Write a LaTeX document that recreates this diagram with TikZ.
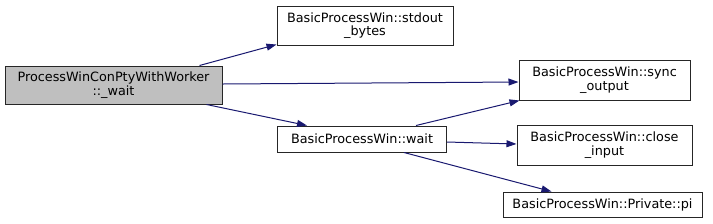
\documentclass[tikz,border=0pt]{standalone}
\usepackage{fontspec}
\setmainfont{DejaVu Sans}
\usetikzlibrary{arrows.meta,calc}
\definecolor{edgeblue}{HTML}{191970}
\definecolor{nodegray}{HTML}{BFBFBF}
\begin{document}
\begin{tikzpicture}[x=0.75pt,y=-0.75pt,
  box/.style={draw=black!85,line width=0.75pt,fill=white,inner sep=0pt,align=center,
    font=\fontsize{9.6pt}{10.2pt}\selectfont},
  edge/.style={draw=edgeblue,line width=0.75pt,-{Triangle[length=7.5pt,width=5.2pt]}}]
\useasboundingbox (0,0) rectangle (713,223);
\node[box,fill=nodegray,minimum width={217*0.75pt},minimum height={38*0.75pt}] (main) at (113.5,85) {ProcessWinConPtyWithWorker\\::\_wait};
\node[box,minimum width={176*0.75pt},minimum height={39*0.75pt}] (stdout) at (365,25.5) {BasicProcessWin::stdout\\\_bytes};
\node[box,minimum width={171*0.75pt},minimum height={40*0.75pt}] (sync) at (604.5,80) {BasicProcessWin::sync\\\_output};
\node[box,minimum width={169*0.75pt},minimum height={26*0.75pt}] (wait) at (362,139) {BasicProcessWin::wait};
\node[box,minimum width={175*0.75pt},minimum height={40*0.75pt}] (close) at (604.5,145) {BasicProcessWin::close\\\_input};
\node[box,minimum width={199*0.75pt},minimum height={25*0.75pt}] (pi) at (602.5,204.5) {BasicProcessWin::Private::pi};
\draw[edge] ($(main.north west)+(195,0)$) -- ($(stdout.south west)+(0,-1)$);
\draw[edge] ($(main.east)+(0,-1)$) -- ($(sync.west)+(0,2)$);
\draw[edge] ($(main.south west)+(202,0)$) -- ($(wait.north west)+(30,0)$);
\draw[edge] ($(wait.north west)+(139,0)$) -- ($(sync.south west)+(1,0)$);
\draw[edge] ($(wait.east)+(0,3)$) -- ($(close.west)+(0,-1)$);
\draw[edge] ($(wait.south west)+(127,0)$) -- ($(pi.north west)+(49,0)$);
\end{tikzpicture}
\end{document}
